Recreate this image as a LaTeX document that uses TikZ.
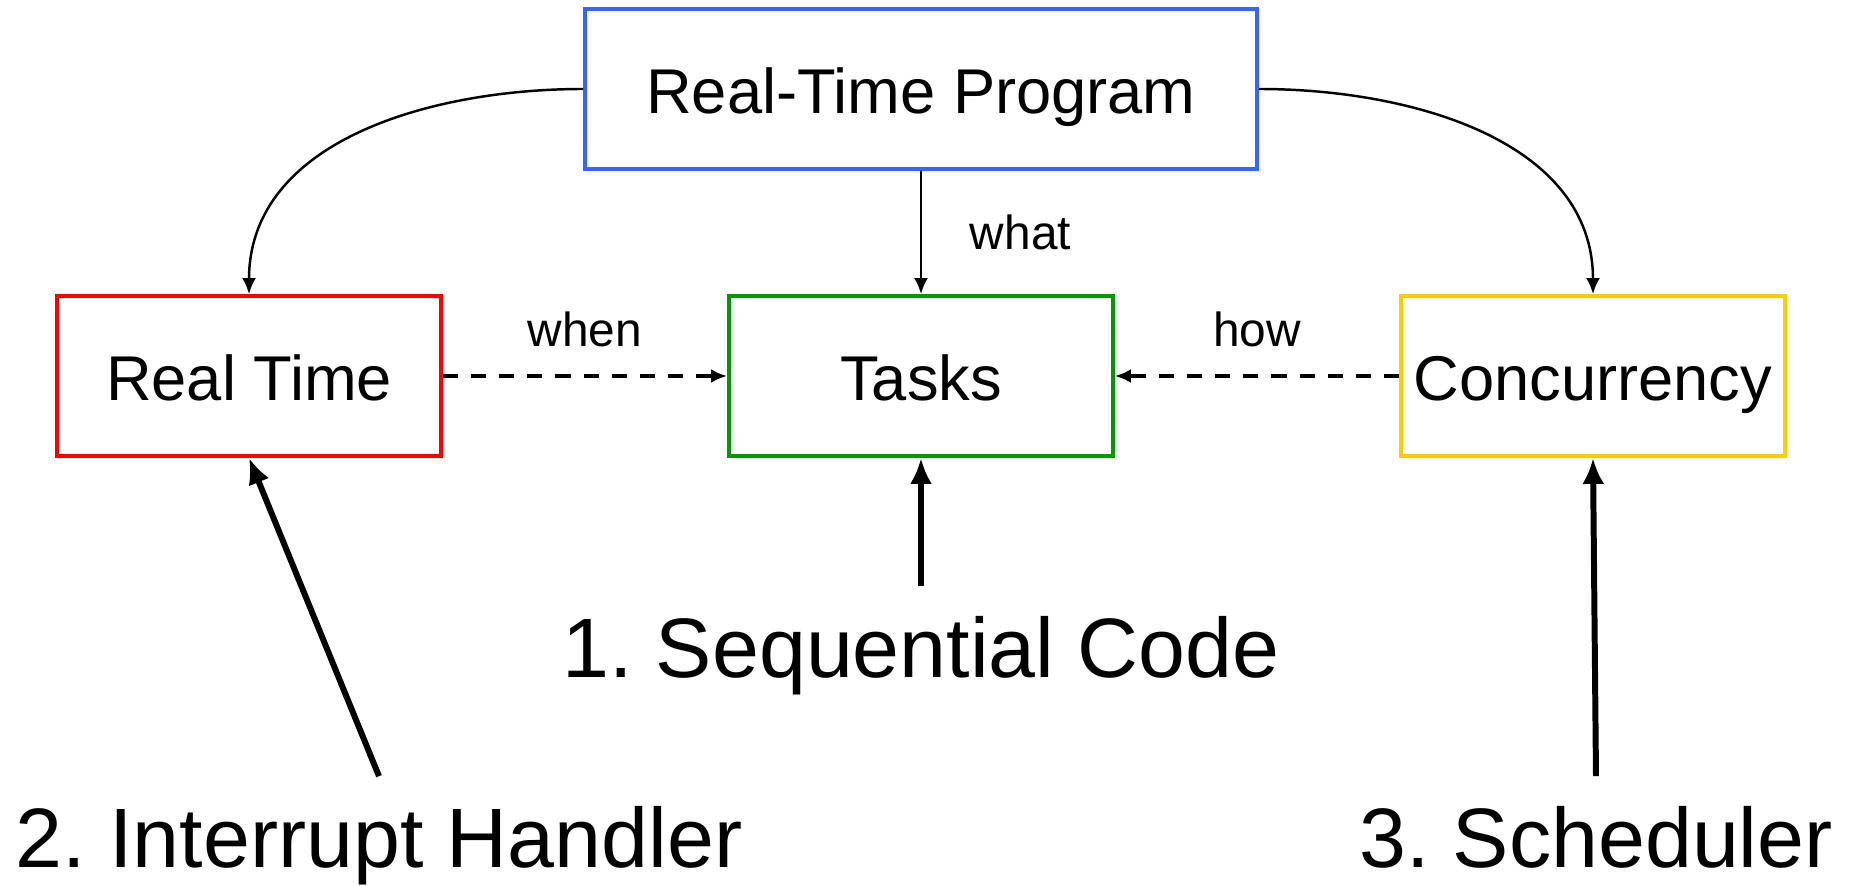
\documentclass[tikz,border=0pt]{standalone}
\usepackage{fontspec}
\setmainfont{Liberation Sans}
\usetikzlibrary{arrows.meta}
\definecolor{progblue}{RGB}{51,102,255}
\definecolor{tasksgreen}{RGB}{0,153,0}
\definecolor{concyellow}{RGB}{255,204,0}
\frenchspacing
\tikzset{
  box/.style={draw, line width=1.1pt, minimum width=3.84cm, minimum height=1.6cm, text height=14pt, text depth=0pt, font=\fontsize{18}{22}\selectfont},
  biglabel/.style={font=\fontsize{24}{28}\selectfont, inner sep=0.3cm, anchor=base},
  smalllabel/.style={font=\fontsize{13.6}{16}\selectfont},
  thinarrow/.style={-{Latex[length=1.6mm,width=1.4mm]}, line width=0.7pt},
  thickarrow/.style={-{Latex[length=2.6mm,width=2.2mm]}, line width=1.7pt},
}
\begin{document}
\begin{tikzpicture}
    \useasboundingbox (0,0) rectangle (18.49,8.86);
    \node[box, draw=progblue, minimum width=6.72cm] (prog) at (9.21, 7.97) {Real-Time Program};
    \node[box, draw=red] (rt) at (2.49, 5.10) {Real Time};
    \node[box, draw=tasksgreen] (tasks) at (9.21, 5.10) {Tasks};
    \node[box, draw=concyellow] (conc) at (15.93, 5.10) {Concurrency};

    \node[biglabel] (seq) at (9.21, 2.08) {1. Sequential Code};
    \node[biglabel] (irq) at (3.79, 0.18) {2. Interrupt Handler};
    \node[biglabel] (sched) at (15.96, 0.18) {3. Scheduler};

    \draw[thinarrow] (prog.west) to[out=180, in=90] (rt.north);
    \draw[thinarrow] (prog.east) to[out=0, in=90] (conc.north);
    \draw[thinarrow] (prog) -- node[smalllabel, right=3.6mm] {what} (tasks);
    \draw[thinarrow, line width=1.1pt, dash pattern=on 4.3pt off 3.7pt] (rt) -- node[smalllabel, above=1.5mm] {when} (tasks);
    \draw[thinarrow, line width=1.1pt, dash pattern=on 4.3pt off 3.7pt] (conc) -- node[smalllabel, above=1.5mm] {how} (tasks);

    \draw[thickarrow] (seq.north) -- (tasks.south);
    \draw[thickarrow] (irq.north) -- (rt.south);
    \draw[thickarrow] (sched.north) -- (conc.south);
\end{tikzpicture}
\end{document}
